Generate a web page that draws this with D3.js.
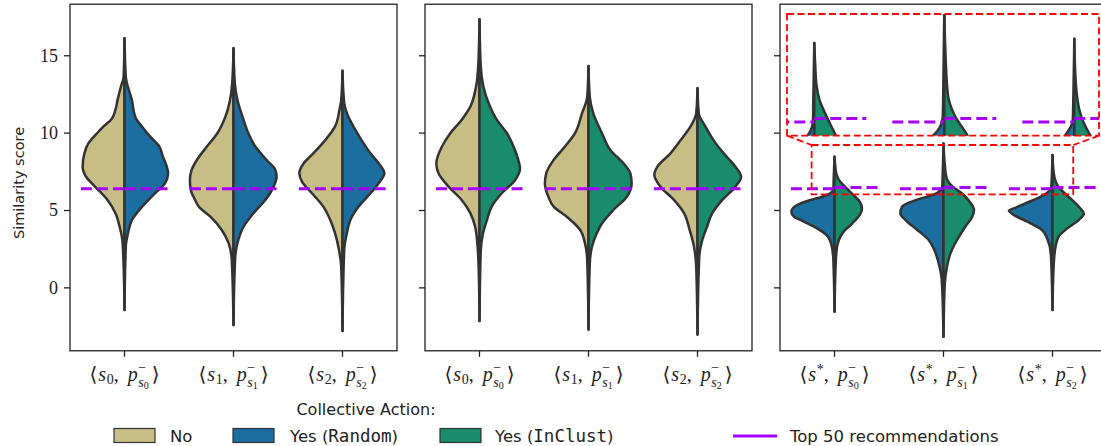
<!DOCTYPE html>
<html><head><meta charset="utf-8">
<script src="https://cdn.jsdelivr.net/npm/d3@7"></script>
<style>body{margin:0;background:#fff}svg{display:block}</style>
</head><body><svg id="c" width="1101" height="446"></svg>
<script>
// ---------- data ----------
const yTicks = [0, 5, 10, 15];
const seriesLabels = ["No", "Yes (Random)", "Yes (InClust)"];
const seriesColors = ["#c9bd86", "#1b6e9f", "#188c6b"];
const top50Label = "Top 50 recommendations";
const legendTitle = "Collective Action:";
const yLabel = "Similarity score";
// tick labels: [s-symbol subscript or "*", p subscript]
const panel1Ticks = [["0","0"],["1","1"],["2","2"]];
const panel2Ticks = [["0","0"],["1","1"],["2","2"]];
const panel3Ticks = [["*","0"],["*","1"],["*","2"]];

// violin half profiles: [score, relative half-width]
const panel1No = [
  [[16.1,0],[13.6,0.02],[13.0,0.08],[12.1,0.16],[11.45,0.21],[10.9,0.29],[10.4,0.48],[9.96,0.63],[9.3,0.83],[8.66,0.92],[7.8,0.96],[7.15,0.88],[6.5,0.67],[5.65,0.39],[4.8,0.21],[3.9,0.11],[3.06,0.05],[1.77,0.025],[-1.47,0]],
  [[15.45,0],[13.2,0.03],[12.1,0.08],[11.0,0.19],[9.96,0.37],[9.1,0.61],[8.23,0.84],[7.59,0.96],[6.94,1.0],[6.29,0.98],[5.65,0.88],[5.22,0.80],[4.57,0.53],[3.71,0.27],[2.84,0.11],[1.77,0.04],[-2.44,0]],
  [[14.0,0],[12.1,0.03],[11.47,0.07],[10.4,0.17],[9.5,0.40],[8.66,0.67],[8.02,0.89],[7.37,0.99],[6.83,0.93],[6.08,0.70],[5.22,0.44],[4.35,0.28],[3.49,0.17],[2.41,0.08],[1.34,0.03],[-2.82,0]]
];
const panel1Random = [
  [[16.1,0],[13.6,0.03],[12.1,0.17],[11.0,0.25],[10.4,0.40],[9.74,0.59],[9.1,0.80],[8.45,0.88],[7.8,0.97],[7.37,1.0],[6.72,0.93],[6.08,0.70],[5.2,0.40],[4.35,0.17],[3.5,0.08],[2.63,0.03],[-1.47,0]],
  [[15.45,0],[13.2,0.03],[12.1,0.09],[11.0,0.21],[9.96,0.34],[9.1,0.50],[8.23,0.76],[7.59,0.96],[7.15,0.99],[6.51,0.92],[5.65,0.73],[4.8,0.46],[3.92,0.23],[3.06,0.11],[1.98,0.04],[-2.44,0]],
  [[14.0,0],[11.9,0.04],[11.25,0.10],[10.4,0.25],[9.5,0.44],[8.66,0.64],[8.02,0.83],[7.37,0.96],[6.83,0.86],[6.08,0.64],[5.22,0.37],[4.35,0.18],[3.49,0.10],[2.41,0.04],[-2.82,0]]
];
const panel2No = [
  [[17.33,0],[14.27,0.03],[12.97,0.08],[11.68,0.21],[10.82,0.41],[9.96,0.67],[9.1,0.86],[8.02,0.99],[7.37,0.94],[6.51,0.71],[5.65,0.41],[4.8,0.21],[3.92,0.10],[2.84,0.05],[1.34,0.02],[-2.18,0]],
  [[14.3,0],[12.3,0.03],[11.25,0.15],[9.96,0.31],[9.1,0.54],[8.23,0.80],[7.37,0.97],[6.72,1.0],[5.86,0.92],[5.22,0.80],[4.57,0.50],[3.71,0.19],[2.84,0.08],[1.77,0.03],[-2.72,0]],
  [[12.87,0],[11.25,0.03],[10.4,0.16],[9.5,0.39],[8.66,0.62],[7.8,0.92],[7.26,0.99],[6.51,0.85],[5.65,0.54],[4.8,0.31],[3.71,0.18],[2.63,0.08],[1.34,0.03],[-3.04,0]]
];
const panel2InClust = [
  [[17.33,0],[14.27,0.03],[12.97,0.09],[11.9,0.21],[10.82,0.40],[9.96,0.63],[9.1,0.78],[8.23,0.89],[7.69,0.93],[6.94,0.82],[6.08,0.51],[5.22,0.28],[4.35,0.17],[3.49,0.08],[2.41,0.03],[-2.18,0]],
  [[14.3,0],[12.3,0.03],[11.25,0.11],[9.96,0.31],[8.88,0.50],[8.02,0.80],[7.37,0.96],[6.72,0.99],[5.86,0.88],[5.0,0.57],[4.14,0.31],[3.49,0.19],[2.63,0.08],[1.55,0.03],[-2.72,0]],
  [[12.87,0],[11.25,0.03],[10.4,0.18],[9.5,0.37],[8.66,0.60],[7.8,0.87],[7.15,1.0],[6.51,0.87],[5.65,0.57],[4.8,0.34],[3.92,0.22],[3.06,0.11],[1.98,0.04],[-3.04,0]]
];
const panel3Random = [
  [[8.44,0],[6.9,0.02],[6.4,0.025],[6.03,0.12],[5.85,0.3],[5.65,0.55],[5.32,0.86],[4.89,0.99],[4.57,0.93],[4.25,0.70],[3.81,0.40],[3.38,0.18],[2.84,0.08],[1.98,0.03],[-1.58,0]],
  [[9.3,0],[7.2,0.02],[6.5,0.03],[6.03,0.2],[5.65,0.62],[5.22,0.95],[4.78,0.99],[4.35,0.87],[3.71,0.60],[3.06,0.34],[2.41,0.21],[1.55,0.11],[0.47,0.04],[-3.19,0]],
  [[8.55,0],[6.9,0.02],[6.4,0.03],[6.03,0.17],[5.75,0.35],[5.43,0.62],[5.1,0.89],[4.96,1.0],[4.68,0.89],[4.25,0.58],[3.71,0.24],[3.06,0.11],[2.2,0.04],[-1.47,0]]
];
const panel3InClust = [
  [[8.44,0],[7.8,0.02],[7.37,0.04],[6.95,0.10],[6.45,0.26],[6.03,0.41],[5.54,0.58],[5.1,0.63],[4.68,0.58],[4.14,0.41],[3.6,0.21],[3.06,0.10],[2.2,0.04],[-1.58,0]],
  [[9.3,0],[8.26,0.02],[7.07,0.07],[6.54,0.2],[6.03,0.44],[5.54,0.60],[5.0,0.70],[4.57,0.66],[3.92,0.50],[3.06,0.31],[2.2,0.16],[1.34,0.08],[0.26,0.03],[-3.19,0]],
  [[8.55,0],[7.37,0.03],[6.62,0.11],[6.45,0.15],[6.03,0.30],[5.65,0.45],[5.1,0.64],[4.78,0.72],[4.35,0.60],[3.81,0.34],[3.28,0.14],[2.63,0.07],[1.55,0.03],[-1.47,0]]
];
// top-50 recommendation score per category: [left half, right half]
const panel1Top50 = [[6.37,6.37],[6.37,6.37],[6.37,6.37]];
const panel2Top50 = [[6.37,6.37],[6.37,6.37],[6.37,6.37]];
const panel3Top50 = [[6.37,6.46],[6.37,6.46],[6.37,6.46]];
// inset zoom limits for panel 3 (category units, score units)
const insetCatLim = [-0.21, 2.19];
const insetScoreLim = [6.01, 9.2];

// ---------- layout ----------
const svg = d3.select("#c");
const yTop = 4.2, yBottom = 350.8, panelW = 327;
const panelLeft = [70, 425, 780];
const y = d3.scaleLinear().domain([-4.1, 18.3]).range([yBottom, yTop]);
const OUT = "#333333", PURPLE = "#a800ff", RED = "#ff0000";
const serif = "'Liberation Serif','DejaVu Serif',serif";
const sans = "'DejaVu Sans',sans-serif";
const mono = "'DejaVu Sans Mono','Liberation Mono',monospace";

svg.append("defs").append("clipPath").attr("id","insetClip")
  .append("rect").attr("x",787).attr("y",14).attr("width",312).attr("height",121.7);

function drawHalf(g, prof, cx, halfMax, side, color, ys) {
  const area = d3.area().curve(d3.curveMonotoneY)
    .y(d => ys(d[0])).x0(cx).x1(d => cx + side * d[1] * halfMax);
  g.append("path").attr("d", area(prof)).attr("fill", color)
    .attr("stroke", OUT).attr("stroke-width", 2.5).attr("stroke-linejoin","round");
}
function drawTop50(g, vals, cx, halfMax, ys) {
  g.append("line").attr("x1", cx - halfMax).attr("x2", cx).attr("y1", ys(vals[0])).attr("y2", ys(vals[0]))
    .attr("stroke", PURPLE).attr("stroke-width", 3).attr("stroke-dasharray","11,5");
  g.append("line").attr("x1", cx).attr("x2", cx + halfMax).attr("y1", ys(vals[1])).attr("y2", ys(vals[1]))
    .attr("stroke", PURPLE).attr("stroke-width", 3).attr("stroke-dasharray","11,5");
}

function tickLabel(g, cx, by, sPart, pSub) {
  const F = 20;
  const lg = g.append("g");
  let x = 0;
  function put(t, size, italic, dy) {
    const el = lg.append("text").attr("x", x).attr("y", by + dy)
      .attr("font-family", serif).attr("font-size", size)
      .attr("font-style", italic ? "italic" : "normal").attr("fill", "#222").text(t);
    x += el.node().getComputedTextLength();
  }
  put("\u27E8", F, false, 0); x += 0.05*F;
  put("s", F, true, 0); x += 0.03*F;
  if (sPart === "*") put("*", 0.7*F, false, -0.36*F); else put(sPart, 0.7*F, false, 0.15*F);
  put(",", F, false, 0); x += 0.45*F;
  put("p", F, true, 0); x += 0.03*F;
  const xs = x; put("\u2212", 0.7*F, false, -0.47*F); const xe = x;
  x = xs; put("s", 0.7*F, true, 0.3*F); put(pSub, 0.5*F, false, 0.42*F);
  x = Math.max(x, xe) + 0.15*F;
  put("\u27E9", F, false, 0);
  lg.attr("transform", `translate(${cx - x/2},0)`);
}

const panelNames = [[panel1No, panel1Random, 0, 1], [panel2No, panel2InClust, 0, 2], [panel3Random, panel3InClust, 1, 2]];
const panelTop50 = [panel1Top50, panel2Top50, panel3Top50];
const panelTicks = [panel1Ticks, panel2Ticks, panel3Ticks];

panelTop50.forEach((t50, p) => {
  const L = panelLeft[p];
  const x = d3.scaleBand().domain([0,1,2]).range([L, L + panelW]);
  const halfMax = 0.4 * x.bandwidth();
  const g = svg.append("g");
  const [leftData, rightData, lc, rc] = panelNames[p];
  [0,1,2].forEach(i => {
    const cx = x(i) + x.bandwidth()/2;
    drawHalf(g, leftData[i], cx, halfMax, -1, seriesColors[lc], y);
    drawHalf(g, rightData[i], cx, halfMax, 1, seriesColors[rc], y);
  });
  [0,1,2].forEach(i => {
    const cx = x(i) + x.bandwidth()/2;
    drawTop50(g, t50[i], cx, halfMax, y);
  });
  svg.append("rect").attr("x", L).attr("y", yTop).attr("width", panelW).attr("height", yBottom - yTop)
    .attr("fill","none").attr("stroke","#222").attr("stroke-width",1.3);
  const ay = svg.append("g").attr("transform", `translate(${L},0)`)
    .call(d3.axisLeft(y).tickValues(yTicks).tickSize(6).tickPadding(6).tickFormat(p === 0 ? d3.format("d") : () => ""));
  ay.select(".domain").remove();
  ay.selectAll(".tick line").attr("stroke","#222").attr("stroke-width",1.3);
  ay.selectAll(".tick text").attr("font-family", serif).attr("font-size", 18).attr("fill","#222");
  const ax = svg.append("g").attr("transform", `translate(0,${yBottom})`)
    .call(d3.axisBottom(x).tickSize(6).tickFormat(() => ""));
  ax.select(".domain").remove();
  ax.selectAll(".tick line").attr("stroke","#222").attr("stroke-width",1.3);
  panelTicks[p].forEach((tk, i) => tickLabel(svg, x(i) + x.bandwidth()/2, 381, tk[0], tk[1]));

  if (p === 2) {
    const catX = d3.scaleLinear().domain([-0.5, 2.5]).range([L, L + panelW]);
    const rx0 = catX(insetCatLim[0]), rx1 = catX(insetCatLim[1]);
    const ry0 = y(insetScoreLim[1]), ry1 = y(insetScoreLim[0]);
    const ix = d3.scaleLinear().domain(insetCatLim).range([787, 1099]);
    const iy = d3.scaleLinear().domain(insetScoreLim).range([135.7, 14]);
    const ig = svg.append("g").attr("clip-path","url(#insetClip)");
    const iHalf = 0.4 * (ix(1) - ix(0));
    [0,1,2].forEach(i => {
      drawHalf(ig, leftData[i], ix(i), iHalf, -1, seriesColors[lc], iy);
      drawHalf(ig, rightData[i], ix(i), iHalf, 1, seriesColors[rc], iy);
    });
    [0,1,2].forEach(i => drawTop50(ig, t50[i], ix(i), iHalf, iy));
    const rg = svg.append("g").attr("fill","none").attr("stroke",RED).attr("stroke-width",1.8).attr("stroke-dasharray","7,3.5");
    rg.append("rect").attr("x", rx0).attr("y", ry0).attr("width", rx1 - rx0).attr("height", ry1 - ry0);
    rg.append("rect").attr("x", 787).attr("y", 14).attr("width", 312).attr("height", 121.7);
    rg.append("line").attr("x1", 787).attr("y1", 135.7).attr("x2", rx0).attr("y2", ry0);
    rg.append("line").attr("x1", 1099).attr("y1", 135.7).attr("x2", rx1).attr("y2", ry0);
  }
});

svg.append("text").attr("transform","translate(24,183) rotate(-90)").attr("text-anchor","middle")
  .attr("font-family", sans).attr("font-size", 14.5).attr("fill","#222").text(yLabel);

svg.append("text").attr("x", 366).attr("y", 414.5).attr("text-anchor","middle")
  .attr("font-family", sans).attr("font-size", 16).attr("fill","#222").text(legendTitle);
const swX = [114, 233, 440], txX = [170, 290, 495];
seriesLabels.forEach((lab, i) => {
  svg.append("rect").attr("x", swX[i]).attr("y", 428.5).attr("width", 41).attr("height", 14)
    .attr("fill", seriesColors[i]).attr("stroke", OUT).attr("stroke-width", 1.2);
  const t = svg.append("text").attr("x", txX[i]).attr("y", 441.5).attr("font-family", sans)
    .attr("font-size", 16.5).attr("fill","#222");
  const m = lab.match(/^(.*\()(.*)(\))$/);
  if (m) {
    t.append("tspan").text(m[1]);
    t.append("tspan").attr("font-family", mono).attr("font-size", 17.5).text(m[2]);
    t.append("tspan").text(m[3]);
  } else t.text(lab);
});
svg.append("line").attr("x1", 733).attr("x2", 777).attr("y1", 436).attr("y2", 436)
  .attr("stroke", PURPLE).attr("stroke-width", 3);
svg.append("text").attr("x", 790).attr("y", 441.5).attr("font-family", sans).attr("font-size", 16.5)
  .attr("fill","#222").text(top50Label);
</script></body></html>
